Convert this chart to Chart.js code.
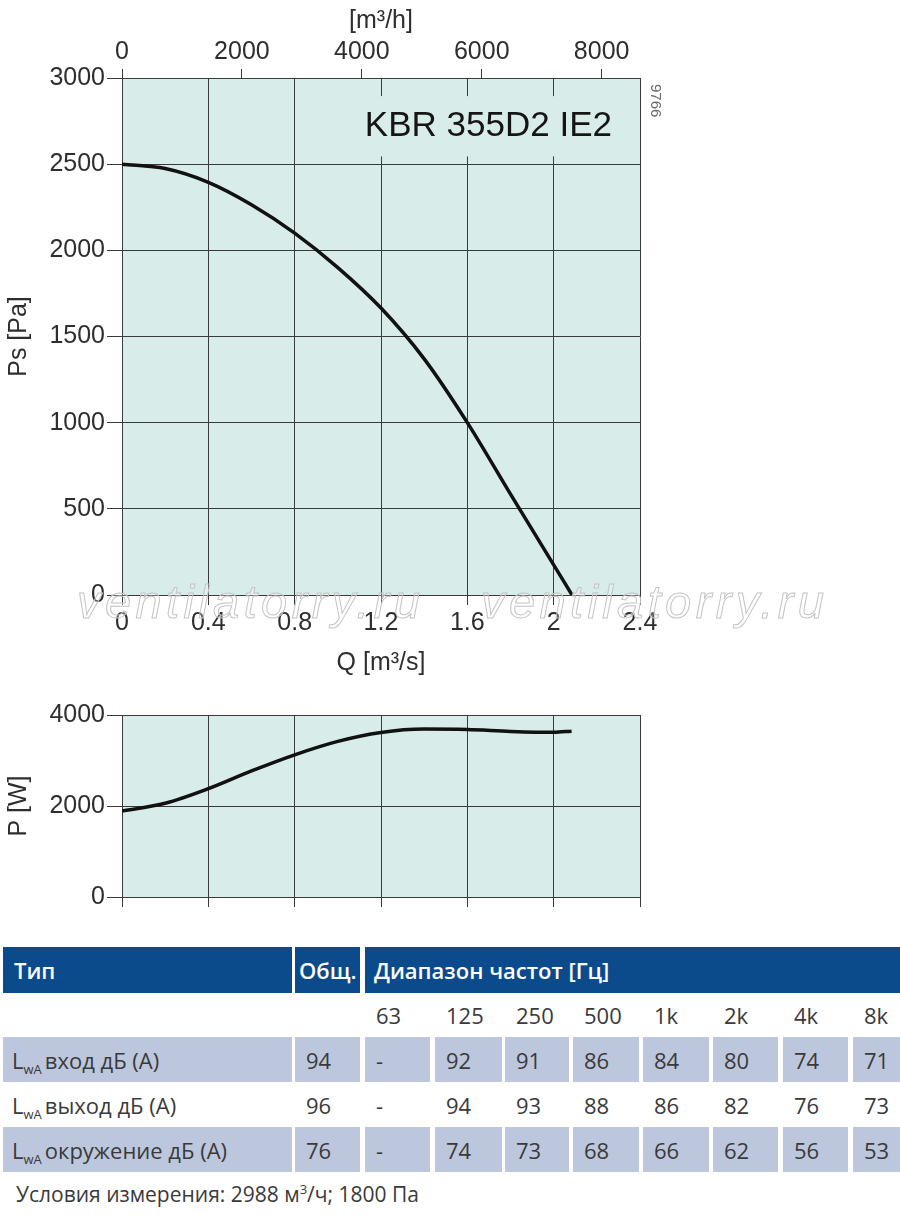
<!DOCTYPE html>
<html>
<head>
<meta charset="utf-8">
<script src="https://cdn.jsdelivr.net/npm/chart.js@4"></script>
<style>
  html, body { margin: 0; padding: 0; background: #fff; }
  body { width: 900px; height: 1220px; position: relative; overflow: hidden; font-family: "Open Sans", "Liberation Sans", sans-serif; color: #333; }
  .cv { position: absolute; left: 0; }
  #wm { position: absolute; left: 0; top: 0; width: 900px; height: 700px; pointer-events: none; }
  .wmt { position: absolute; top: 574px; font-family: "Liberation Sans", sans-serif; font-style: italic; font-size: 47px; letter-spacing: 4.4px; color: rgba(255,255,255,0.25); -webkit-text-stroke: 1px #c4c4c4; white-space: nowrap; }
  .cell { position: absolute; box-sizing: border-box; padding-left: 11px; display: flex; align-items: center; font-size: 22px; color: #3a3a3a; white-space: nowrap; }
  .hd { background: #0b4a8b; color: #fff; font-weight: 600; }
  .sh { background: #bcc7dd; }
  .sub { font-size: 13px; position: relative; top: 5px; margin-right: 3px; }
  #foot { position: absolute; left: 16px; top: 1180px; font-size: 21px; color: #3a3a3a; }
  #code { position: absolute; top: 84px; left: 665px; font-size: 15px; color: #666; transform: rotate(90deg); transform-origin: 0 0; font-family: "Liberation Sans", sans-serif; }
</style>
</head>
<body>
<canvas id="c1" class="cv" width="680" height="690" style="top:0;width:680px;height:690px"></canvas>
<canvas id="c2" class="cv" width="680" height="230" style="top:690px;width:680px;height:230px"></canvas>
<div id="code">9766</div>
<div id="wm"><div class="wmt" style="left:77px">ventilatorry.ru</div><div class="wmt" style="left:481px">ventilatorry.ru</div></div>
<div id="table"></div>
<div id="foot">Условия измерения: 2988 м<sup style="font-size:13px">3</sup>/ч; 1800 Па</div>
<script>
// ---- Data ----
const flowQ = [0, 0.2, 0.4, 0.6, 0.8, 1.0, 1.2, 1.4, 1.6, 1.8, 2.0, 2.085];
const pressurePs = [2500, 2475, 2395, 2265, 2100, 1900, 1665, 1370, 1000, 585, 175, 0];
const powerQ = [0, 0.2, 0.4, 0.6, 0.8, 1.0, 1.2, 1.4, 1.6, 1.8, 2.0, 2.083];
const powerP = [1890, 2060, 2380, 2770, 3125, 3420, 3615, 3690, 3680, 3640, 3620, 3645];
const qTicks = [0, 0.4, 0.8, 1.2, 1.6, 2.0, 2.4];
const qLabels = ["0", "0.4", "0.8", "1.2", "1.6", "2", "2.4"];
const m3hTicks = [0, 2000, 4000, 6000, 8000];
const psTicks = [0, 500, 1000, 1500, 2000, 2500, 3000];
const pTicks = [0, 2000, 4000];
const modelName = "KBR 355D2 IE2";

const bands = ["63", "125", "250", "500", "1k", "2k", "4k", "8k"];
const rowLabels = ["вход дБ (А)", "выход дБ (А)", "окружение дБ (А)"];
const rowTotals = ["94", "96", "76"];
const inletLevels = ["-", "92", "91", "86", "84", "80", "74", "71"];
const outletLevels = ["-", "94", "93", "88", "86", "82", "76", "73"];
const surroundLevels = ["-", "74", "73", "68", "66", "62", "56", "53"];

// ---- Styles ----
const BG = "#d8ecea";
const GRID = "#3a3a3a";
const TXT = "#2e2e2e";
const FONT = "Liberation Sans";
Chart.defaults.font.family = FONT;
Chart.defaults.color = TXT;

const bgPlugin = {
  id: "plotbg",
  beforeDraw(chart) {
    const a = chart.chartArea, ctx = chart.ctx;
    ctx.save(); ctx.fillStyle = BG; ctx.fillRect(a.left, a.top, a.right - a.left, a.bottom - a.top); ctx.restore();
  }
};
const titlePlugin = {
  id: "modeltitle",
  afterDatasetsDraw(chart) {
    const ctx = chart.ctx, xs = chart.scales.x, ys = chart.scales.y;
    const x0 = xs.getPixelForValue(1.13), x1 = xs.getPixelForValue(2.3);
    const y0 = ys.getPixelForValue(2895), y1 = ys.getPixelForValue(2545);
    ctx.save();
    ctx.fillStyle = BG; ctx.fillRect(x0, y0, x1 - x0, y1 - y0);
    ctx.fillStyle = "#151515"; ctx.font = "35px " + FONT; ctx.textAlign = "right"; ctx.textBaseline = "middle";
    ctx.fillText(modelName, xs.getPixelForValue(2.27), ys.getPixelForValue(2720));
    ctx.restore();
  }
};

function fixedTicks(values) { return (scale) => { scale.ticks = values.map(v => ({ value: v })); }; }
const plain = (v) => String(v);
const tickFont = { size: 25, family: FONT };
const titleFont = { size: 25, family: FONT };

new Chart(document.getElementById("c1"), {
  type: "line",
  data: { datasets: [{ data: flowQ.map((q, i) => ({ x: q, y: pressurePs[i] })), borderColor: "#111", borderWidth: 3.5, pointRadius: 0, cubicInterpolationMode: "monotone", fill: false }] },
  options: {
    responsive: false, animation: false, events: [],
    layout: { padding: { left: 0, right: 40, top: 0, bottom: 0 } },
    plugins: { legend: { display: false }, tooltip: { enabled: false } },
    scales: {
      x: {
        type: "linear", position: "bottom", min: 0, max: 2.4,
        afterBuildTicks: fixedTicks(qTicks), afterFit: s => { s.height = 95; },
        grid: { color: GRID, lineWidth: 1, tickLength: 10, tickColor: GRID },
        border: { color: GRID },
        ticks: { font: tickFont, padding: 3, maxRotation: 0, callback: (v) => qLabels[qTicks.indexOf(v)] ?? "" },
        title: { display: true, text: "Q [m³/s]", font: titleFont, color: TXT, padding: { top: 0, bottom: 12 } }
      },
      x2: {
        type: "linear", position: "top", min: 0, max: 2.4 * 3600,
        afterBuildTicks: fixedTicks(m3hTicks), afterFit: s => { s.height = 78; },
        grid: { drawOnChartArea: false, color: GRID, tickLength: 9, tickColor: GRID },
        border: { color: GRID },
        ticks: { font: tickFont, padding: 2, maxRotation: 0, callback: plain },
        title: { display: true, text: "[m³/h]", font: titleFont, color: TXT, padding: { top: 6, bottom: 0 } }
      },
      y: {
        type: "linear", position: "left", min: 0, max: 3000,
        afterBuildTicks: fixedTicks(psTicks), afterFit: s => { s.width = 122; },
        grid: { color: GRID, lineWidth: 1, tickLength: 15, tickColor: GRID },
        border: { color: GRID },
        ticks: { font: tickFont, padding: 2, callback: plain },
        title: { display: true, text: "Ps [Pa]", font: titleFont, color: TXT, padding: { top: 4, bottom: 0 } }
      }
    }
  },
  plugins: [bgPlugin, titlePlugin]
});

new Chart(document.getElementById("c2"), {
  type: "line",
  data: { datasets: [{ data: powerQ.map((q, i) => ({ x: q, y: powerP[i] })), borderColor: "#111", borderWidth: 3.5, pointRadius: 0, cubicInterpolationMode: "monotone", fill: false }] },
  options: {
    responsive: false, animation: false, events: [],
    layout: { padding: { left: 0, right: 40, top: 25, bottom: 0 } },
    plugins: { legend: { display: false }, tooltip: { enabled: false } },
    scales: {
      x: {
        type: "linear", position: "bottom", min: 0, max: 2.4,
        afterBuildTicks: fixedTicks(qTicks), afterFit: s => { s.height = 23; },
        grid: { color: GRID, lineWidth: 1, tickLength: 10, tickColor: GRID },
        border: { color: GRID },
        ticks: { font: tickFont, padding: 0, callback: () => "" }
      },
      y: {
        type: "linear", position: "left", min: 0, max: 4000,
        afterBuildTicks: fixedTicks(pTicks), afterFit: s => { s.width = 122; },
        grid: { color: GRID, lineWidth: 1, tickLength: 15, tickColor: GRID },
        border: { color: GRID },
        ticks: { font: tickFont, padding: 2, callback: plain },
        title: { display: true, text: "P [W]", font: titleFont, color: TXT, padding: { top: 4, bottom: 0 } }
      }
    }
  },
  plugins: [bgPlugin]
});

// ---- Table ----
const T = document.getElementById("table");
function cell(x, y, w, h, html, cls) {
  const d = document.createElement("div");
  d.className = "cell " + (cls || "");
  d.style.left = x + "px"; d.style.top = y + "px"; d.style.width = w + "px"; d.style.height = h + "px";
  d.innerHTML = html; T.appendChild(d); return d;
}
const bandX = [365, 435, 505, 573, 643, 713, 783, 853];
const bandW = [65, 67, 64, 66, 66, 65, 65, 47];
cell(3, 947, 289, 46, "Тип", "hd");
cell(295, 947, 65, 46, "Общ.", "hd").style.paddingLeft = "4px";
cell(365, 947, 535, 46, "Диапазон частот [Гц]", "hd").style.paddingLeft = "9px";
bands.forEach((b, i) => cell(bandX[i], 993, bandW[i], 44, b, ""));
const levelRows = [inletLevels, outletLevels, surroundLevels];
const rowY = [1037, 1082, 1127];
levelRows.forEach((vals, r) => {
  const cls = r === 1 ? "" : "sh";
  cell(3, rowY[r], 289, 45, '<span>L<span class="sub">wA</span>' + rowLabels[r] + '</span>', cls).style.paddingLeft = "9px";
  cell(295, rowY[r], 65, 45, rowTotals[r], cls);
  vals.forEach((v, i) => cell(bandX[i], rowY[r], bandW[i], 45, v, cls));
});
</script>
</body>
</html>
